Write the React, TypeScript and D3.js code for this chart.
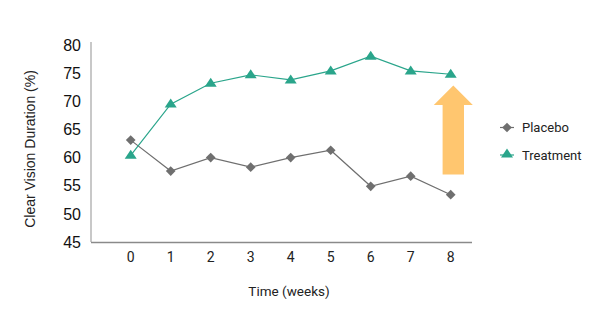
import React from "react";
import * as d3 from "d3";

const weeks = [0, 1, 2, 3, 4, 5, 6, 7, 8];
const placebo = [63.1, 57.6, 60.0, 58.3, 60.0, 61.3, 54.9, 56.7, 53.4];
const treatment = [60.4, 69.5, 73.2, 74.7, 73.8, 75.4, 78.0, 75.4, 74.8];
const yTicks = [45, 50, 55, 60, 65, 70, 75, 80];
const seriesNames = ["Placebo", "Treatment"];

const GRAY = "#6f6f6f";
const TEAL = "#2aa58b";
const ORANGE = "#ffc66f";

export default function App() {
  const W = 601, H = 320;
  const x = d3.scaleLinear().domain([0, 8]).range([130.7, 450.7]);
  const y = d3.scaleLinear().domain([45, 80]).range([242, 45]);
  const line = d3.line<number>().x((_, i) => x(weeks[i])).y((d) => y(d));
  const diamond = d3.symbol().type(d3.symbolDiamond2).size(60)();
  const tri = (cx: number, cy: number) =>
    `M${cx},${cy - 5.5}L${cx + 6},${cy + 3.5}L${cx - 6},${cy + 3.5}Z`;

  // arrow geometry
  const ax = 453.3;
  const arrow = `M${ax},85.5 L${ax + 19.5},105 L${ax + 10.7},105 L${ax + 10.7},174.5 L${ax - 10.7},174.5 L${ax - 10.7},105 L${ax - 19.5},105 Z`;

  return (
    <svg width={W} height={H} style={{ position: "absolute", left: 0, top: 0, background: "#fff" }}>
      {/* axes */}
      <line x1={91} y1={42} x2={91} y2={242} stroke="#c8c8c8" strokeWidth={2} />
      <line x1={91} y1={242.5} x2={472} y2={242.5} stroke="#8a8a8a" strokeWidth={1.3} />
      {yTicks.map((t) => (
        <text key={t} x={81} y={y(t)} dy="0.36em" textAnchor="end"
          fontFamily="Liberation Sans, Arial, sans-serif" fontSize={16} fill="#111">{t}</text>
      ))}
      {weeks.map((w) => (
        <text key={w} x={x(w)} y={262} textAnchor="middle"
          fontFamily="Roboto, sans-serif" fontSize={14} fill="#222">{w}</text>
      ))}
      <text x={289} y={296} textAnchor="middle" fontFamily="Roboto, sans-serif" fontSize={13.5} fill="#222">Time (weeks)</text>
      <text transform="translate(35,149) rotate(-90)" textAnchor="middle"
        fontFamily="Liberation Sans, Arial, sans-serif" fontSize={14} fill="#222">Clear Vision Duration (%)</text>

      {/* arrow */}
      <path d={arrow} fill={ORANGE} />

      {/* series */}
      <path d={line(placebo) || ""} fill="none" stroke={GRAY} strokeWidth={1.2} />
      {placebo.map((v, i) => (
        <path key={i} d={diamond} transform={`translate(${x(weeks[i])},${y(v)})`} fill={GRAY} />
      ))}
      <path d={line(treatment) || ""} fill="none" stroke={TEAL} strokeWidth={1.2} />
      {treatment.map((v, i) => (
        <path key={i} d={tri(x(weeks[i]), y(v))} fill={TEAL} />
      ))}

      {/* legend */}
      <g>
        <line x1={500} y1={127.5} x2={514} y2={127.5} stroke={GRAY} strokeWidth={1.2} />
        <path d={diamond} transform="translate(507,127.5)" fill={GRAY} />
        <text x={522} y={132} fontFamily="Roboto, sans-serif" fontSize={13} fill="#222">{seriesNames[0]}</text>
        <line x1={500} y1={155} x2={514} y2={155} stroke={TEAL} strokeWidth={1.2} />
        <path d={tri(507, 154)} fill={TEAL} />
        <text x={522} y={159.5} fontFamily="Roboto, sans-serif" fontSize={13} fill="#222">{seriesNames[1]}</text>
      </g>
    </svg>
  );
}
